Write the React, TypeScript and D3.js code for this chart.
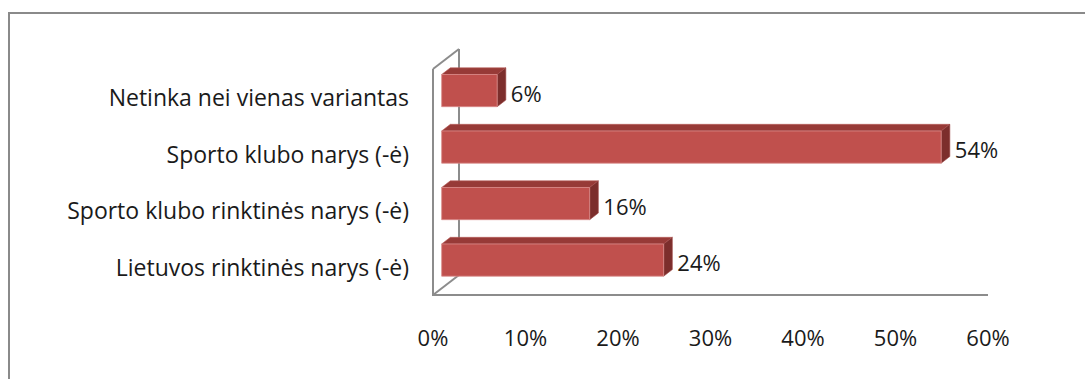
import React from "react";
import * as d3 from "d3";

const categories = [
  "Netinka nei vienas variantas",
  "Sporto klubo narys (-ė)",
  "Sporto klubo rinktinės narys (-ė)",
  "Lietuvos rinktinės narys (-ė)",
];
const values = [0.06, 0.54, 0.16, 0.24];
const valueLabels = ["6%", "54%", "16%", "24%"];
const ticks = [0, 0.1, 0.2, 0.3, 0.4, 0.5, 0.6];

const W = 1085;
const H = 379;
const DX = 26;
const DY = -20;
const FONT = "'Open Sans', 'Noto Sans', sans-serif";

export default function App() {
  const x = d3.scaleLinear().domain([0, 0.6]).range([433, 988]);
  const y = d3
    .scaleBand<string>()
    .domain(categories)
    .range([69, 295])
    .paddingInner(0.43)
    .paddingOuter(0.215);
  const fy = d3.scaleBand<string>().domain(categories).range([69, 295]);
  const pct = d3.format(".0%");

  const P = (xv: number, yv: number, depth: number): [number, number] => [
    x(xv) + depth * DX,
    yv + depth * DY,
  ];
  const poly = (pts: [number, number][]) =>
    pts.map((p) => `${p[0]},${p[1]}`).join(" ");

  const x0 = x(0);
  const yTop = 69;
  const yBot = 295;
  const axisColor = "#8c8c8c";

  return (
    <svg
      width={W}
      height={H}
      style={{ position: "absolute", left: 0, top: 0, background: "#fff" }}
    >
      {/* outer frame */}
      <line x1={9} y1={13} x2={W + 5} y2={13} stroke="#8a8a8a" strokeWidth={2} />
      <line x1={9} y1={12} x2={9} y2={H + 5} stroke="#8a8a8a" strokeWidth={2} />

      {/* walls */}
      <g stroke={axisColor} strokeWidth={2} fill="none">
        <line x1={x0} y1={yTop} x2={x0} y2={yBot} />
        <line x1={x0} y1={yTop} x2={x0 + DX} y2={yTop + DY} />
        <line x1={x0 + DX} y1={yTop + DY} x2={x0 + DX} y2={yBot + DY} />
        <line x1={x0} y1={yBot} x2={x0 + DX} y2={yBot + DY} />
        <line x1={x0 - 1} y1={yBot} x2={x(0.6)} y2={yBot} />
      </g>

      {/* bars */}
      {categories.map((c, i) => {
        const v = values[i];
        const t = y(c)!;
        const b = t + y.bandwidth();
        const front = [P(0, t, 1 / 3), P(v, t, 1 / 3), P(v, b, 1 / 3), P(0, b, 1 / 3)];
        const top = [P(0, t, 1 / 3), P(v, t, 1 / 3), P(v, t, 2 / 3), P(0, t, 2 / 3)];
        const side = [P(v, t, 1 / 3), P(v, t, 2 / 3), P(v, b, 2 / 3), P(v, b, 1 / 3)];
        const [lx, ly] = P(v, (t + b) / 2, 2 / 3);
        return (
          <g key={c}>
            <polygon points={poly(top)} fill="#973a37" stroke="#b85a57" strokeWidth={0.6} />
            <polygon points={poly(side)} fill="#7c2e2c" stroke="#a04a48" strokeWidth={0.6} />
            <polygon points={poly(front)} fill="#c0504d" stroke="#d98c8a" strokeWidth={0.8} />
            <text
              x={lx + 5}
              y={ly + 17.7}
              fontFamily={FONT}
              fontSize={22}
              fill="#1a1a1a"
            >
              {valueLabels[i]}
            </text>
          </g>
        );
      })}

      {/* category labels */}
      {categories.map((c) => (
        <text
          key={c}
          x={409}
          y={fy(c)! + fy.bandwidth() / 2 + 9}
          textAnchor="end"
          fontFamily={FONT}
          fontSize={23}
          fill="#1a1a1a"
        >
          {c}
        </text>
      ))}

      {/* tick labels */}
      {ticks.map((tk) => (
        <text
          key={tk}
          x={x(tk)}
          y={346}
          textAnchor="middle"
          fontFamily={FONT}
          fontSize={22}
          fill="#1a1a1a"
        >
          {pct(tk)}
        </text>
      ))}
    </svg>
  );
}
